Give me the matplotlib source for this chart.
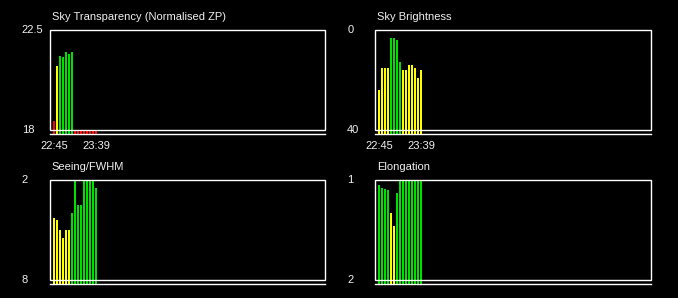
import numpy as np
import matplotlib
matplotlib.use("Agg")
import matplotlib.pyplot as plt
from matplotlib.patches import Rectangle

plt.rcParams['font.family'] = ['Liberation Sans', 'DejaVu Sans']

GREEN = '#00e000'
YELLOW = '#ffff00'
RED = '#ff0000'
FG = '#f0f0f0'

time_labels = ['22:45', '23:39']

# transparency (normalised ZP), 18 .. 22.5
zp_vals = [18.42, 20.90, 21.35, 21.30, 21.53, 21.44, 21.53,
           18.03, 18.03, 18.03, 18.03, 18.03, 18.03, 18.03, 18.03]
zp_cols = ['r', 'y', 'g', 'g', 'g', 'g', 'g',
           'r', 'r', 'r', 'r', 'r', 'r', 'r', 'r']

# sky brightness, 0 (top) .. 40 (bottom)
sky_vals = [23.7, 15.1, 15.1, 15.1, 3.07, 3.07, 3.73, 12.67,
            15.87, 15.87, 13.87, 13.87, 15.1, 19.07, 15.87]
sky_cols = ['y', 'y', 'y', 'y', 'g', 'g', 'g', 'g',
            'y', 'y', 'y', 'y', 'y', 'y', 'y']

# seeing / fwhm, 2 (top) .. 8 (bottom)
fwhm_vals = [4.26, 4.38, 4.98, 5.46, 4.98, 4.98, 3.96, 2.0,
             3.48, 3.48, 2.0, 2.0, 2.0, 2.0, 2.46]
fwhm_cols = ['y', 'y', 'y', 'y', 'y', 'y', 'g', 'g',
             'g', 'g', 'g', 'g', 'g', 'g', 'g']

# elongation, 1 (top) .. 2 (bottom)
elong_vals = [1.047, 1.077, 1.087, 1.097, 1.327, 1.457, 1.127, 1.0,
              1.0, 1.0, 1.0, 1.0, 1.0, 1.0, 1.0]
elong_cols = ['g', 'g', 'g', 'g', 'y', 'y', 'g', 'g',
              'g', 'g', 'g', 'g', 'g', 'g', 'g']

cmap = {'g': GREEN, 'y': YELLOW, 'r': RED}

fig = plt.figure(figsize=(6.78, 2.98), dpi=100, facecolor='black')

W, H = 678.0, 298.0
box_w = 275.3
box_h = 100.0
extra = 4.0  # gap below the box to the lower rule


def panel(left_px, top_px, title, vals, cols, top_val, bot_val, show_time):
    h_px = box_h + extra
    ax = fig.add_axes([left_px / W, (H - top_px - h_px) / H, box_w / W, h_px / H])
    ax.set_facecolor('black')
    for s in ax.spines.values():
        s.set_visible(False)

    span = bot_val - top_val
    base = bot_val + span * extra / box_h
    ax.set_ylim(base, top_val)
    ax.set_xlim(-1.33, 90.4)

    x = np.arange(len(vals))
    v = np.array(vals)
    ax.bar(x, v - base, bottom=base, width=0.67,
           color=[cmap[c] for c in cols], linewidth=0, zorder=2)

    # frame box and lower rule
    x0, x1 = ax.get_xlim()
    ax.add_patch(Rectangle((x0, min(top_val, bot_val)), x1 - x0, abs(span),
                           fill=False, edgecolor='white', lw=1.0, clip_on=False, zorder=3))
    ax.plot([x0, x1], [base, base], color='white', lw=1.0, clip_on=False, zorder=3)

    tr = ax.get_yaxis_transform()
    fmt = lambda t: ('%g' % t)
    ax.text(-0.102, top_val, fmt(top_val), transform=tr, color=FG,
            fontsize=8, ha='left', va='center')
    ax.text(-0.102, bot_val, fmt(bot_val), transform=tr, color=FG,
            fontsize=8, ha='left', va='center')

    ax.text(0.007, 1.128, title, transform=ax.transAxes, color=FG,
            fontsize=8, ha='left', va='center')

    ax.set_yticks([])
    if show_time:
        ax.set_xticks([0, len(vals) - 1], time_labels)
        ax.tick_params(axis='x', length=0, pad=5, colors=FG, labelsize=8)
    else:
        ax.set_xticks([])
    return ax


panel(50, 30.3, 'Sky Transparency (Normalised ZP)', zp_vals, zp_cols, 22.5, 18, True)
panel(375.3, 30.3, 'Sky Brightness', sky_vals, sky_cols, 0, 40, True)
panel(50, 180.3, 'Seeing/FWHM', fwhm_vals, fwhm_cols, 2, 8, False)
panel(375.3, 180.3, 'Elongation', elong_vals, elong_cols, 1, 2, False)

fig.savefig('out.png', dpi=100, facecolor='black')
